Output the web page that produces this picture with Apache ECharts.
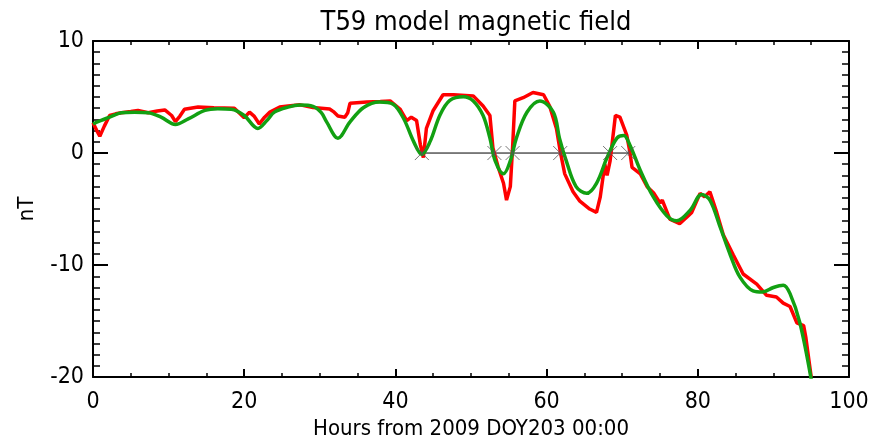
<!DOCTYPE html>
<html>
<head>
<meta charset="utf-8">
<script src="https://cdn.jsdelivr.net/npm/echarts@6/dist/echarts.min.js"></script>
<style>html,body{margin:0;padding:0;background:#fff}#c{width:872px;height:445px}</style>
</head>
<body>
<div id="c"></div>
<script>
// Measured field (red), hours vs nT
const redHours = [0,0.5,0.9,1.5,2.2,3.0,3.75,5.0,5.95,7.3,8.5,9.5,10.4,10.9,11.5,12.1,13.9,16,18.7,20,20.7,21.3,22,22.7,23.4,24.7,25.8,27.4,29.1,31.3,31.8,32.4,33.3,33.7,34,36.2,38,39.3,40.6,41.5,42.1,42.8,43.3,43.7,44.1,45,46.3,47.7,50.3,51.6,52.5,52.9,53.6,54.3,54.7,55.2,55.5,55.8,56.9,58.2,59.6,60.4,61.3,61.8,62.4,63.5,64.4,65.7,66.6,67.1,67.7,68,68.4,69.1,69.7,70.6,71,71.3,72.4,73.3,74.2,75,75.3,76.3,77.6,78.5,79.2,80.3,80.9,81.6,82.5,83.4,84.7,86,87.8,89.1,90.4,91.3,92.2,93.1,94,94.3,95];
const redValues = [2.7,2.0,1.5,2.4,3.35,3.5,3.6,3.7,3.8,3.6,3.75,3.85,3.35,2.8,3.3,3.9,4.1,4.05,4.0,3.15,3.65,3.3,2.6,3.2,3.65,4.1,4.2,4.3,4.07,3.93,3.7,3.3,3.2,3.6,4.45,4.56,4.6,4.65,3.93,2.9,3.2,2.9,0.75,-0.4,2.2,3.8,5.2,5.2,5.1,4.2,3.35,0.46,-1.27,-2.7,-4.2,-3.0,0.46,4.65,4.94,5.4,5.2,4.2,2.2,0.17,-1.86,-3.45,-4.3,-5.0,-5.3,-3.9,-0.99,-2.0,-0.7,3.35,3.2,1.6,0.17,-1.27,-1.86,-3.0,-3.6,-4.46,-4.2,-5.9,-6.3,-5.76,-5.3,-3.6,-3.9,-3.45,-5.3,-7.35,-9.1,-10.8,-11.7,-12.7,-12.85,-13.4,-13.7,-15.15,-15.4,-16.5,-20];
// T59 model field (green)
const greenHours = [0,1,2.2,3.75,5.5,7.3,9,10.9,12.6,14.8,16.5,18.3,20,21.8,23,24,25.8,27.4,29.1,30.2,30.9,32.4,34,35.8,37.9,39.7,41.1,42.4,43.5,44.6,45.9,47.2,49,50.3,51.6,52.5,53.2,54.3,55.2,56,57.4,59.1,60.9,61.7,62.6,63.9,65.3,66.6,68,69.3,70.2,71,72.4,74.1,75.9,77.2,79,80.5,81.6,82.9,84.3,85.6,87.3,88.6,90,91.3,92.2,93.5,95];
const greenValues = [2.6,2.9,3.2,3.6,3.65,3.6,3.2,2.55,3.05,3.8,3.95,3.9,3.35,2.2,2.9,3.65,4.1,4.28,4.16,3.6,2.78,1.33,2.78,4.07,4.56,4.36,3.06,1.04,-0.12,1.04,3.4,4.7,5.03,4.65,3.35,1.33,-0.7,-1.86,-0.7,1.33,3.64,4.65,3.64,1.33,-0.7,-3.0,-3.6,-2.7,-0.4,1.33,1.56,0.75,-1.56,-3.9,-5.6,-6.05,-5.1,-3.7,-4.2,-6.5,-9.1,-11.1,-12.3,-12.4,-12.0,-11.8,-12.55,-15.15,-20.2];
// zero crossings (marked with X)
const crossHours = [43.5,53.1,55.5,61.8,68.4,70.8];
const xTicks = [0,20,40,60,80,100];
const yTicks = [-20,-10,0,10];

const pair = (xs, ys) => xs.map((x, i) => [x, ys[i]]);
const FONT = '"Liberation Sans Narrow", "DejaVu Sans Condensed", "DejaVu Sans", sans-serif';

const chart = echarts.init(document.getElementById('c'), null, {renderer: 'canvas'});
const axLine = {show: true, onZero: false, lineStyle: {color: '#000', width: 2}};
chart.setOption({
  animation: false,
  backgroundColor: '#fff',
  title: {
    text: 'T59 model magnetic field', left: 471, top: 4, textAlign: 'center',
    textStyle: {fontFamily: FONT, fontSize: 27, fontWeight: 'normal', color: '#000'}
  },
  grid: {left: 93, right: 23, top: 41, bottom: 59},
  xAxis: [{
    type: 'value', min: 0, max: 100, interval: 20, position: 'bottom',
    name: 'Hours from 2009 DOY203 00:00', nameLocation: 'middle', nameGap: 36,
    nameTextStyle: {fontFamily: FONT, fontSize: 22, color: '#000'},
    axisLine: axLine,
    axisTick: {show: true, inside: true, length: 8, lineStyle: {color: '#000', width: 2}},
    minorTick: {show: true, splitNumber: 4, length: 4, lineStyle: {color: '#000', width: 1.5}},
    axisLabel: {fontFamily: FONT, fontSize: 23, color: '#000', margin: 13, formatter: v => xTicks.includes(v) ? String(v) : ''},
    splitLine: {show: false}
  }, {
    type: 'value', min: 0, max: 100, interval: 20, position: 'top',
    axisLine: axLine,
    axisTick: {show: true, inside: true, length: 8, lineStyle: {color: '#000', width: 2}},
    minorTick: {show: true, splitNumber: 4, length: 4, lineStyle: {color: '#000', width: 1.5}},
    axisLabel: {show: false}, splitLine: {show: false}
  }],
  yAxis: [{
    type: 'value', min: -20, max: 10, interval: 10, position: 'left',
    name: 'nT', nameLocation: 'middle', nameGap: 55, nameRotate: 90,
    nameTextStyle: {fontFamily: FONT, fontSize: 22, color: '#000'},
    axisLine: axLine,
    axisTick: {show: true, inside: true, length: 15, lineStyle: {color: '#000', width: 2}},
    minorTick: {show: true, splitNumber: 10, length: 7, lineStyle: {color: '#000', width: 1.5}},
    axisLabel: {fontFamily: FONT, fontSize: 23, color: '#000', margin: 9, align: 'right', verticalAlign: 'middle',
      formatter: v => yTicks.includes(v) ? String(v) : ''},
    splitLine: {show: false}
  }, {
    type: 'value', min: -20, max: 10, interval: 10, position: 'right',
    axisLine: axLine,
    axisTick: {show: true, inside: true, length: 15, lineStyle: {color: '#000', width: 2}},
    minorTick: {show: true, splitNumber: 10, length: 7, lineStyle: {color: '#000', width: 1.5}},
    axisLabel: {show: false}, splitLine: {show: false}
  }],
  series: [
    {
      type: 'line', name: 'zero', xAxisIndex: 0, yAxisIndex: 0,
      data: [[crossHours[0], 0], [crossHours[crossHours.length - 1], 0]],
      symbol: 'none', lineStyle: {color: '#000', width: 1}, z: 2
    },
    {
      type: 'line', name: 'data', data: pair(redHours, redValues),
      symbol: 'none', lineStyle: {color: '#ff0000', width: 3.5}, clip: true, z: 3
    },
    {
      type: 'line', name: 'T59', data: pair(greenHours, greenValues),
      symbol: 'none', smooth: 0.35, lineStyle: {color: '#12a012', width: 3.5}, clip: true, z: 4
    },
    {
      type: 'scatter', name: 'crossings', data: crossHours.map(h => [h, 0]),
      symbol: 'path://M0,0L10,10M10,0L0,10M5,3L5,7', symbolSize: 14,
      itemStyle: {color: 'rgba(0,0,0,0)', borderColor: '#555', borderWidth: 1}, z: 5
    }
  ]
});
</script>
</body>
</html>
